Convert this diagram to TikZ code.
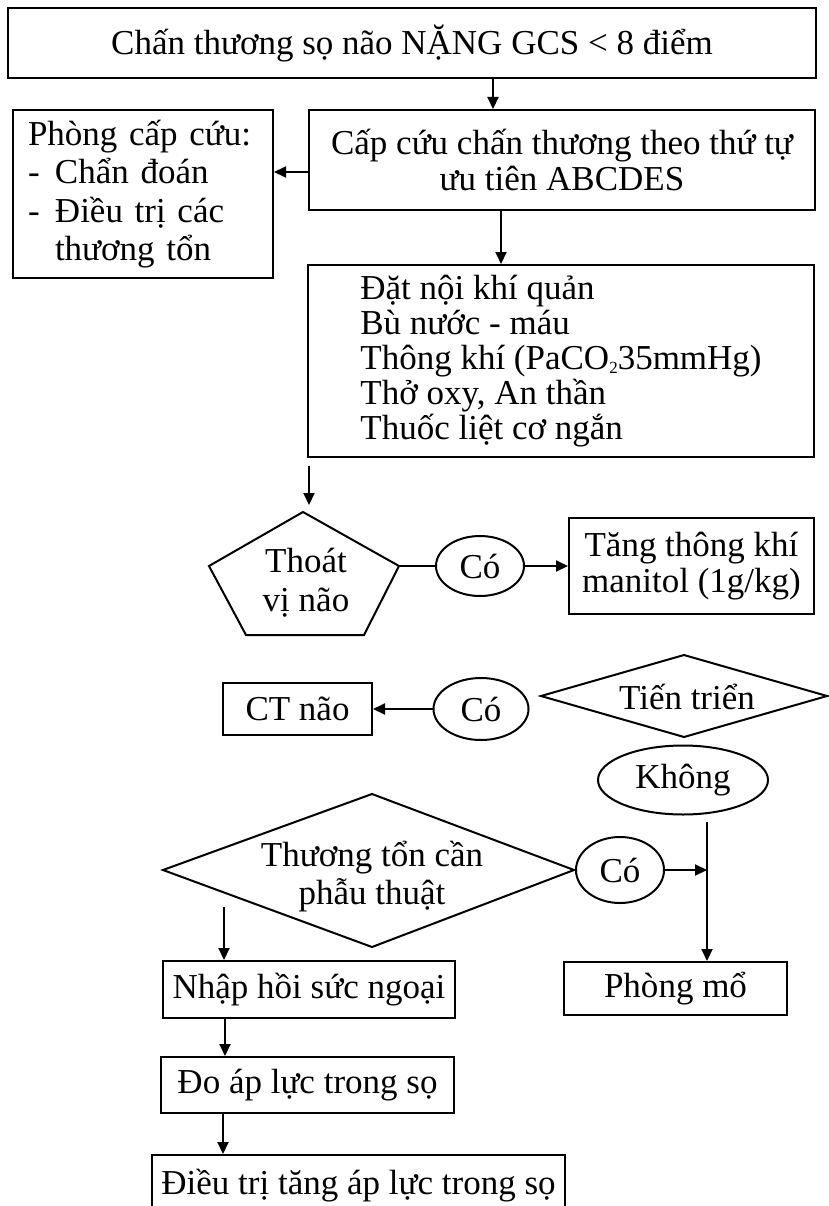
\documentclass[tikz,border=0pt]{standalone}
\usepackage{fontspec}
\setmainfont{Liberation Serif}
\usetikzlibrary{arrows.meta,shapes.geometric}
\begin{document}
\begin{tikzpicture}[x=1pt,y=-1pt,
  every node/.style={font=\fontsize{35}{36}\selectfont, inner sep=0pt},
  boxnode/.style={draw, line width=2pt, rectangle, align=center},
  ovalnode/.style={draw, line width=2pt, ellipse},
  shapeline/.style={line width=2pt, line join=miter},
  arr/.style={line width=2pt, -{Triangle[length=12pt,width=11pt]}},
  plainline/.style={line width=2pt}]
\useasboundingbox[fill=white] (0,0) rectangle (828,1206);

% helper coordinates
\coordinate (x493) at (493,0);
\coordinate (x501) at (501,0);
\coordinate (x225) at (225,0);
\coordinate (x223) at (223,0);
\coordinate (y172) at (0,172);

% boxes
\node[boxnode, minimum width=808pt, minimum height=70pt] (top) at (412,43) {Chấn thương sọ não NẶNG GCS < 8 điểm};
\node[boxnode, minimum width=506pt, minimum height=100pt] (cap) at (562,160) {Cấp cứu chấn thương theo thứ tự\\ưu tiên ABCDES};
\node[boxnode, minimum width=260pt, minimum height=168pt, text width=230pt, align=left, font=\fontsize{35}{38.5}\selectfont] (phong) at (143,194)
  {Phòng cấp cứu:\\\makebox[27pt][l]{-}Chẩn đoán\\\makebox[27pt][l]{-}Điều trị các\\\hspace*{27pt}thương tổn};
\node[boxnode, minimum width=506pt, minimum height=192pt, align=left, font=\fontsize{35}{35}\selectfont] (b3) at (561,361)
  {Đặt nội khí quản\\Bù nước - máu\\Thông khí (PaCO\raisebox{-0.25ex}{\fontsize{17}{17}\selectfont 2}35mmHg)\\Thở oxy, An thần\\Thuốc liệt cơ ngắn};

% pentagon
\coordinate (pT) at (303,512);
\coordinate (pR) at (399,566);
\coordinate (pBR) at (364,635);
\coordinate (pBL) at (246,635);
\coordinate (pL) at (209,566);
\draw[shapeline] (pT) -- (pR) -- (pBR) -- (pBL) -- (pL) -- cycle;
\node[align=center, font=\fontsize{35}{39}\selectfont] (pent) at (306,583) {Thoát\\vị não};
\coordinate (a5s) at (309,466);
\coordinate (a5e) at (309,505);

\node[ovalnode, minimum width=88pt, minimum height=60pt] (c1) at (480,566) {Có};
\node[boxnode, minimum width=245pt, minimum height=96pt] (tang) at (691.5,566) {Tăng thông khí\\manitol (1g/kg)};

% CT row
\node[boxnode, minimum width=149pt, minimum height=52pt] (ct) at (297.5,709) {CT não};
\node[ovalnode, minimum width=95pt, minimum height=62pt] (c2) at (481,709) {Có};
\coordinate (tL) at (541,696);
\coordinate (tT) at (684,655);
\coordinate (tR) at (827,696);
\coordinate (tB) at (684,737);
\draw[shapeline] (tL) -- (tT) -- (tR) -- (tB) -- cycle;
\node (tien) at (687,697) {Tiến triển};

\node[ovalnode, minimum width=170pt, minimum height=69pt] (khong) at (683,780) {Không};

% surgery diamond
\coordinate (dL) at (163,870);
\coordinate (dT) at (372,794);
\coordinate (dR) at (574,870);
\coordinate (dB) at (372,947);
\draw[shapeline] (dL) -- (dT) -- (dR) -- (dB) -- cycle;
\node[align=center, font=\fontsize{35}{38}\selectfont] (thuong) at (372,877) {Thương tổn cần\\phẫu thuật};
\node[ovalnode, minimum width=88pt, minimum height=66pt] (c3) at (620,870) {Có};
\coordinate (vtop) at (707,822);
\coordinate (vmid) at (707,870);
\coordinate (a7s) at (224,907);

\node[boxnode, minimum width=223pt, minimum height=53pt] (mo) at (675.5,988.5) {Phòng mổ};
\node[boxnode, minimum width=292pt, minimum height=57pt] (nhap) at (309,989.5) {Nhập hồi sức ngoại};
\node[boxnode, minimum width=293pt, minimum height=56pt] (doap) at (307.5,1085) {Đo áp lực trong sọ};
\node[boxnode, minimum width=413pt, minimum height=62pt] (dieu) at (358.5,1186) {Điều trị tăng áp lực trong sọ};

% connectors
\draw[arr] (x493 |- top.south) -- (x493 |- cap.north);
\draw[arr] (cap.west |- y172) -- (phong.east |- y172);
\draw[arr] (x501 |- cap.south) -- (x501 |- b3.north);
\draw[arr] (a5s) -- (a5e);
\draw[plainline] (pR) -- (c1.west);
\draw[arr] (c1.east) -- (tang.west);
\draw[arr] (c2.west) -- (ct.east);
\draw[arr] (vtop) -- (vtop |- mo.north);
\draw[arr] (c3.east) -- (vmid);
\draw[arr] (a7s) -- (a7s |- nhap.north);
\draw[arr] (x225 |- nhap.south) -- (x225 |- doap.north);
\draw[arr] (x223 |- doap.south) -- (x223 |- dieu.north);
\end{tikzpicture}
\end{document}
